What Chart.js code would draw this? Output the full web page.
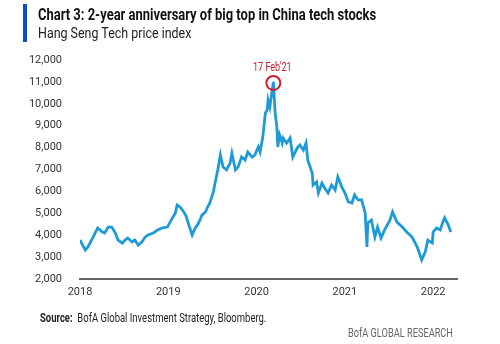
<!DOCTYPE html>
<html>
<head>
<meta charset="utf-8">
<script src="https://cdn.jsdelivr.net/npm/chart.js@4"></script>
<style>
  html, body { margin: 0; padding: 0; background: #fff; }
  #wrap { position: relative; width: 500px; height: 344px; overflow: hidden; font-family: 'Roboto', sans-serif; }
  #bar { position: absolute; left: 23px; top: 4px; width: 4px; height: 38px; background: #0b4fc4; }
  .txt { position: absolute; white-space: nowrap; transform-origin: 0 0; }
  #title { left: 38px; top: 5px; font-size: 16px; font-weight: bold; color: #111; transform: scaleX(0.81); }
  #subtitle { left: 38px; top: 24px; font-size: 15px; color: #222; transform: scaleX(0.83); }
  #source { left: 40px; top: 311px; font-size: 12px; color: #222; transform: scaleX(0.79); }
  #brand { left: 348px; top: 326px; font-size: 12px; color: #666; transform: scaleX(0.77); }
  #chart { position: absolute; left: 0; top: 0; }
</style>
</head>
<body>
<div id="wrap">
  <canvas id="chart" width="500" height="344"></canvas>
  <div id="bar"></div>
  <div id="title" class="txt">Chart 3: 2-year anniversary of big top in China tech stocks</div>
  <div id="subtitle" class="txt">Hang Seng Tech price index</div>
  <div id="source" class="txt"><b>Source:</b>&nbsp; BofA Global Investment Strategy, Bloomberg.</div>
  <div id="brand" class="txt">BofA GLOBAL RESEARCH</div>
</div>
<script>
// x positions as fractional years (axis labels as printed on the chart)
const years = [
  2018.00, 2018.06, 2018.09, 2018.15, 2018.20, 2018.25, 2018.28, 2018.32, 2018.36, 2018.40,
  2018.43, 2018.48, 2018.51, 2018.54, 2018.59, 2018.62, 2018.66, 2018.70, 2018.74, 2018.77,
  2018.83, 2018.88, 2018.93, 2018.99, 2019.02, 2019.08, 2019.10, 2019.13, 2019.16, 2019.20,
  2019.23, 2019.27, 2019.30, 2019.33, 2019.36, 2019.38, 2019.42, 2019.44, 2019.47, 2019.51,
  2019.53, 2019.56, 2019.59, 2019.62, 2019.66, 2019.70, 2019.72, 2019.76, 2019.79, 2019.83,
  2019.87, 2019.90, 2019.95, 2019.98, 2020.02, 2020.04, 2020.07, 2020.10, 2020.12, 2020.13,
  2020.15, 2020.19, 2020.20, 2020.21, 2020.23, 2020.24, 2020.26, 2020.29, 2020.30, 2020.34,
  2020.38, 2020.41, 2020.46, 2020.49, 2020.53, 2020.56, 2020.58, 2020.63, 2020.64, 2020.68,
  2020.70, 2020.74, 2020.77, 2020.81, 2020.85, 2020.89, 2020.92, 2020.97, 2021.00, 2021.04,
  2021.08, 2021.11, 2021.15, 2021.19, 2021.23, 2021.25, 2021.26, 2021.30, 2021.34, 2021.37,
  2021.41, 2021.45, 2021.51, 2021.54, 2021.59, 2021.65, 2021.70, 2021.76, 2021.82, 2021.87,
  2021.91, 2021.94, 2021.99, 2022.00, 2022.04, 2022.08, 2022.11, 2022.13, 2022.17, 2022.20
];
// Hang Seng Tech index level
const hstech = [
  3780, 3320, 3460, 3920, 4330, 4150, 4100, 4370, 4370, 4100,
  3780, 3640, 3780, 3870, 3690, 3780, 3550, 3690, 3920, 4010,
  4100, 4240, 4330, 4370, 4600, 5010, 5380, 5300, 5150, 4900,
  4500, 4010, 4300, 4470, 4700, 4920, 5050, 5240, 5470, 5970,
  6380, 6980, 7660, 7110, 6980, 7300, 7750, 6980, 7110, 7570,
  7430, 7800, 7570, 7660, 8030, 7800, 8480, 9580, 9720, 10170,
  9850, 11000, 10310, 9580, 8940, 8030, 8580, 8210, 8440, 8210,
  8440, 7570, 7980, 8120, 7890, 8210, 7430, 6840, 6290, 6430,
  5930, 6380, 6160, 5930, 6290, 6060, 6660, 6160, 5930, 5520,
  5470, 5840, 5610, 5610, 5010, 3460, 4560, 4690, 3920, 4370,
  3870, 4240, 4690, 5060, 4600, 4370, 4150, 3920, 3460, 2870,
  3230, 3780, 3640, 4150, 4330, 4240, 4600, 4790, 4470, 4150
];
const yearTicks = [2018, 2019, 2020, 2021, 2022];
const peakIndex = 61; // 17 Feb'21 top
const peakLabel = "17 Feb'21";

const FONT = "'Roboto', sans-serif";

// red circle + date label round the peak
const peakMarker = {
  id: 'peakMarker',
  afterDatasetsDraw(chart) {
    const ctx = chart.ctx;
    const x = chart.scales.x.getPixelForValue(years[peakIndex]);
    const y = chart.scales.y.getPixelForValue(hstech[peakIndex]);
    ctx.save();
    ctx.strokeStyle = '#c8202f';
    ctx.lineWidth = 2;
    ctx.beginPath();
    ctx.arc(x, y + 1, 7, 0, Math.PI * 2);
    ctx.stroke();
    ctx.fillStyle = '#c8202f';
    ctx.font = '12px ' + FONT;
    ctx.textAlign = 'center';
    ctx.textBaseline = 'middle';
    ctx.translate(x - 1, y - 14);
    ctx.scale(0.75, 1);
    ctx.fillText(peakLabel, 0, 0);
    ctx.restore();
  }
};

new Chart(document.getElementById('chart').getContext('2d'), {
  type: 'line',
  data: {
    datasets: [{
      data: years.map((v, i) => ({ x: v, y: hstech[i] })),
      borderColor: '#1e9bd7',
      borderWidth: 2.8,
      pointRadius: 0,
      tension: 0
    }]
  },
  options: {
    responsive: false,
    animation: false,
    layout: { padding: { top: 60, right: 43, left: 0, bottom: 0 } },
    plugins: { legend: { display: false }, tooltip: { enabled: false } },
    scales: {
      x: {
        type: 'linear',
        min: 2018,
        max: 2022.27,
        afterFit: s => { s.height = 65; },
        afterBuildTicks: s => { s.ticks = yearTicks.map(v => ({ value: v })); },
        ticks: { callback: v => String(v), color: '#333', font: { family: FONT, size: 11 }, padding: 7, maxRotation: 0 },
        grid: { drawOnChartArea: false, drawTicks: false },
        border: { color: '#666', width: 2 }
      },
      y: {
        min: 2000,
        max: 12000,
        afterFit: s => { s.width = 80; },
        ticks: { stepSize: 1000, callback: v => v.toLocaleString('en-US'), color: '#333', font: { family: FONT, size: 11 }, padding: 10 },
        grid: { display: false },
        border: { display: false }
      }
    }
  },
  plugins: [peakMarker]
});
</script>
</body>
</html>
